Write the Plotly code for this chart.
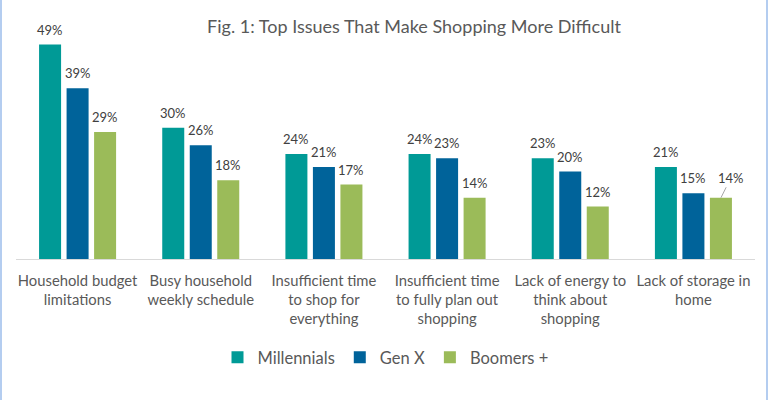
import plotly.graph_objects as go

categories = [
    "Household budget<br>limitations",
    "Busy household<br>weekly schedule",
    "Insufficient time<br>to shop for<br>everything",
    "Insufficient time<br>to fully plan out<br>shopping",
    "Lack of energy to<br>think about<br>shopping",
    "Lack of storage in<br>home",
]
series_names = ["Millennials", "Gen X", "Boomers +"]
millennials = [49, 30, 24, 24, 23, 21]
gen_x = [39, 26, 21, 23, 20, 15]
boomers = [29, 18, 17, 14, 12, 14]
colors = ["#009a96", "#00639a", "#9bbb59"]
title_text = "Fig. 1: Top Issues That Make Shopping More Difficult"

all_values = [millennials, gen_x, boomers]
FONT = "Lato, Open Sans, sans-serif"

fig = go.Figure()
for name, vals, col in zip(series_names, all_values, colors):
    fig.add_trace(go.Bar(name=name, x=categories, y=vals, marker=dict(color=col, line=dict(width=0))))

# plot geometry for label offsets
W, H = 770, 400
ml, mr, mt, mb = 16, 15, 30, 141
plot_w = W - ml - mr
bargap = 0.33
slot = plot_w / len(categories) * (1 - bargap) / len(series_names)

annotations = []
for si, vals in enumerate(all_values):
    for ci, v in enumerate(vals):
        xs = (si - 1) * slot
        if si == 2 and ci == len(categories) - 1:
            annotations.append(dict(
                x=categories[ci], y=v, xref="x", yref="y", xshift=xs,
                text=f"{v}%", showarrow=True, arrowhead=0, arrowwidth=1,
                arrowcolor="#a6a6a6", ax=10, ay=-20, standoff=0,
                font=dict(family=FONT, size=13, color="#404040"),
            ))
        else:
            annotations.append(dict(
                x=categories[ci], y=v, xref="x", yref="y", xshift=xs, yshift=15,
                text=f"{v}%", showarrow=False, yanchor="middle",
                font=dict(family=FONT, size=13, color="#404040"),
            ))

shapes = [
    dict(type="line", xref="paper", yref="paper",
         x0=(1 - ml) / plot_w, x1=(1 - ml) / plot_w, y0=-2, y1=2,
         line=dict(color="#b4cdf0", width=2)),
    dict(type="line", xref="paper", yref="paper",
         x0=(767 - ml) / plot_w, x1=(767 - ml) / plot_w, y0=-2, y1=2,
         line=dict(color="#b4cdf0", width=2)),
]

fig.update_layout(
    width=W, height=H,
    margin=dict(l=ml, r=mr, t=mt, b=mb),
    paper_bgcolor="white", plot_bgcolor="white",
    barmode="group", bargap=bargap, bargroupgap=0.2,
    title=dict(text=title_text, x=414 / W, xref="container", xanchor="center",
               y=1 - 27 / H, yref="container", yanchor="middle",
               font=dict(family=FONT, size=18, color="#595959")),
    xaxis=dict(showline=True, linecolor="#d9d9d9", linewidth=1, ticks="",
               tickfont=dict(family=FONT, size=14.8, color="#595959"),
               ticklabelstandoff=8,
               showgrid=False, fixedrange=True),
    yaxis=dict(range=[0, 52.34], visible=False, showgrid=False, zeroline=False),
    legend=dict(orientation="h", x=0.5, xanchor="center", y=-0.43, yanchor="middle",
                font=dict(family=FONT, size=16.5, color="#595959")),
    annotations=annotations,
    shapes=shapes,
    showlegend=True,
)

fig.write_html("out.html")
